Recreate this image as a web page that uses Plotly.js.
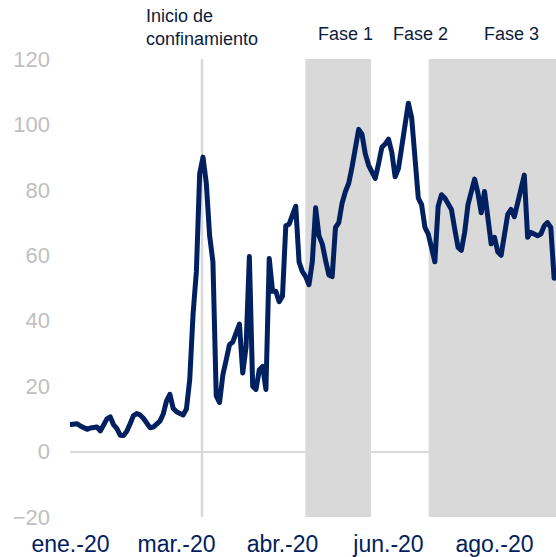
<!DOCTYPE html>
<html>
<head>
<meta charset="utf-8">
<script src="https://cdn.plot.ly/plotly-3.0.1.min.js"></script>
<style>
  html, body { margin: 0; padding: 0; background: #ffffff; }
  #chart { width: 556px; height: 557px; }
  .scatterlayer .js-line { stroke-linejoin: round !important; stroke-linecap: round !important; }
</style>
</head>
<body>
<div id="chart"></div>
<script>
// Series values (one value per period)
const values = [
  8.3, 8.6, 8.5, 7.8, 7.2, 6.8, 7.2, 7.5, 7.5, 6.3,
  8.0, 10.0, 10.6, 8.2, 7.0, 5.0, 4.9, 6.2, 8.5, 11.0,
  11.6, 11.2, 10.2, 8.6, 7.3, 7.5, 8.3, 9.3, 11.5, 15.5,
  17.5, 13.2, 12.2, 11.5, 11.2, 13.0, 22.0, 42.0, 55.0, 85.0,
  90.0, 82.0, 66.0, 58.0, 17.0, 15.0, 23.5, 28.0, 32.7, 33.5,
  36.5, 39.0, 24.0, 32.0, 59.6, 20.0, 19.0, 25.0, 26.0, 19.0,
  59.0, 49.0, 49.0, 45.8, 47.5, 69.0, 69.5, 72.5, 75.0, 58.0,
  55.0, 53.5, 51.0, 58.0, 74.5, 66.0, 63.5, 58.5, 54.0, 53.5,
  68.5, 70.0, 76.0, 79.5, 82.0, 87.0, 93.0, 98.5, 97.0, 91.0,
  87.5, 85.0, 83.5, 88.0, 93.0, 94.0, 95.5, 91.5, 84.0, 86.5,
  93.5, 100.5, 106.5, 102.0, 89.3, 77.5, 75.5, 68.5, 66.5, 62.0,
  58.0, 75.0, 78.5, 77.5, 75.5, 74.0, 68.0, 62.4, 61.5, 67.0,
  75.5, 80.0, 83.3, 79.0, 73.0, 79.5, 72.0, 63.5, 65.5, 61.0,
  60.0, 66.0, 72.5, 74.0, 71.8, 76.0, 81.0, 84.5, 65.5, 67.0,
  66.5, 66.0, 66.5, 69.0, 70.0, 68.5, 53.0
];
const periods = values.map((v, i) => i);

// Axis tick labels and their period positions
const tickLabels = ["ene.-20", "mar.-20", "abr.-20", "jun.-20", "ago.-20"];
const tickPeriods = [0, 32, 64, 96, 128];

// Event markers (in period units)
const confinementStart = 39.7;
const fase1 = [70.9, 90.7];
const fase3 = [108.1, 146.6];
const faseLabels = ["Fase 1", "Fase 2", "Fase 3"];
const faseLabelPos = [82.9, 105.8, 133.0];

const xRange = [-0.15, 146.57];
const yRange = [-20, 120];

const navy = "#002060";
const shade = "#d9d9d9";
const textDark = "#0d1b3a";

const trace = {
  x: periods,
  y: values,
  type: "scatter",
  mode: "lines",
  line: { color: navy, width: 5 },
  hoverinfo: "skip",
  showlegend: false
};

const layout = {
  width: 556,
  height: 557,
  margin: { l: 70, r: 0, t: 59, b: 40 },
  paper_bgcolor: "#ffffff",
  plot_bgcolor: "rgba(0,0,0,0)",
  font: { family: "Liberation Sans, Arial, sans-serif" },
  xaxis: {
    range: xRange,
    showgrid: false,
    zeroline: false,
    showline: false,
    ticks: "",
    tickmode: "array",
    tickvals: tickPeriods,
    ticktext: tickLabels,
    tickfont: { size: 23, color: navy, family: "Liberation Sans, Arial, sans-serif" },
    ticklabelstandoff: 11,
    fixedrange: true
  },
  yaxis: {
    range: yRange,
    showgrid: false,
    zeroline: true,
    zerolinecolor: shade,
    zerolinewidth: 2,
    showline: false,
    ticks: "",
    tickmode: "array",
    tickvals: [-20, 0, 20, 40, 60, 80, 100, 120],
    tickfont: { size: 22, color: "#bfbfbf", family: "Liberation Sans, Arial, sans-serif" },
    ticklabelstandoff: 19,
    fixedrange: true
  },
  shapes: [
    { type: "rect", xref: "x", yref: "y", x0: fase1[0], x1: fase1[1], y0: yRange[0], y1: yRange[1],
      fillcolor: shade, line: { width: 0 }, layer: "below" },
    { type: "rect", xref: "x", yref: "y", x0: fase3[0], x1: fase3[1], y0: yRange[0], y1: yRange[1],
      fillcolor: shade, line: { width: 0 }, layer: "below" },
    { type: "line", xref: "x", yref: "y", x0: confinementStart, x1: confinementStart, y0: yRange[0], y1: yRange[1],
      line: { color: shade, width: 2.5 }, layer: "below" }
  ],
  annotations: [
    { text: "Inicio de<br>confinamiento", xref: "x", yref: "paper",
      x: 22.3, y: 1.018, xanchor: "left", yanchor: "bottom", align: "left",
      showarrow: false, font: { size: 18, color: textDark } },
    ...faseLabels.map((t, i) => ({
      text: t, xref: "x", yref: "paper", x: faseLabelPos[i], y: 1.055,
      xanchor: "center", yanchor: "middle", showarrow: false,
      font: { size: 18, color: textDark }
    }))
  ]
};

Plotly.newPlot("chart", [trace], layout, { displayModeBar: false, staticPlot: true });
</script>
</body>
</html>
